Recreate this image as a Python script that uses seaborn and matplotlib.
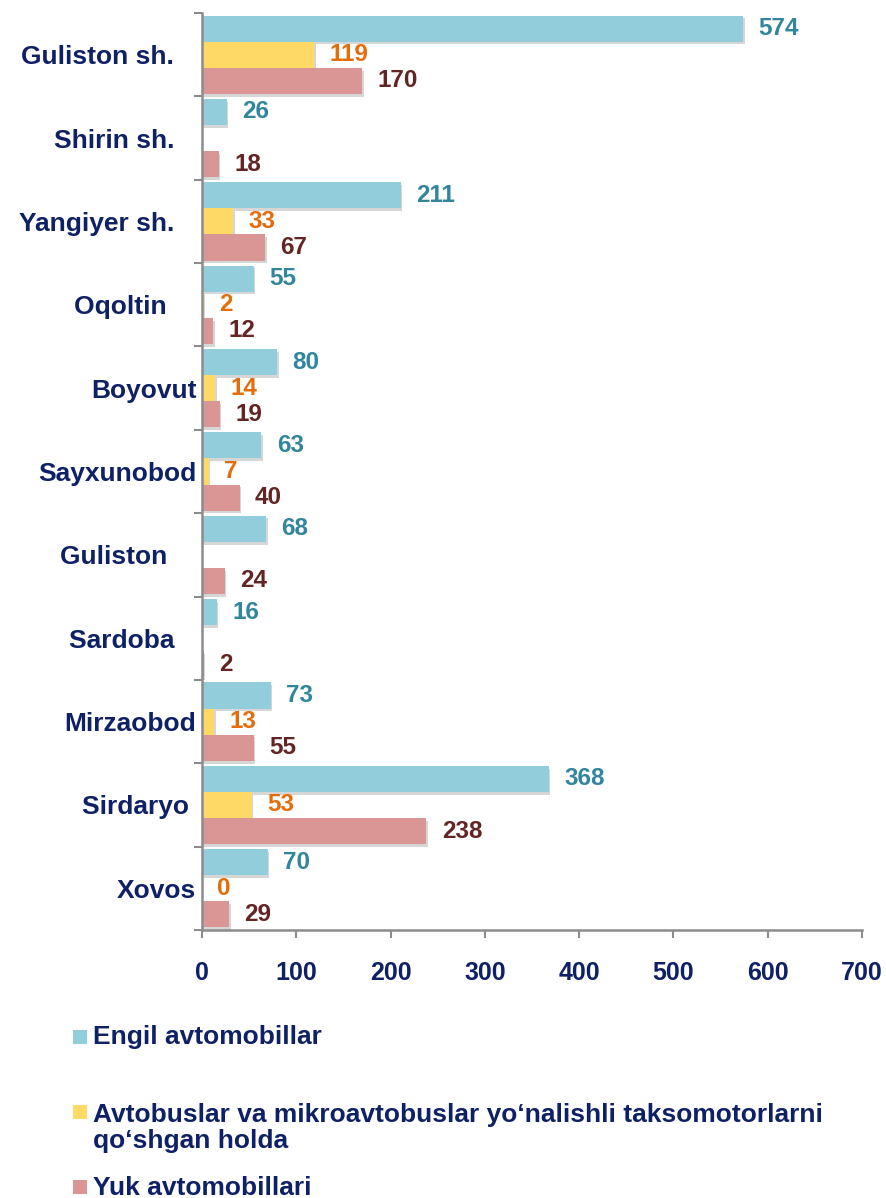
import numpy as np
import pandas as pd
import matplotlib
matplotlib.use("Agg")
import matplotlib.pyplot as plt
import matplotlib.patheffects as pe
from matplotlib.patches import Rectangle
import seaborn as sns

# ---- data ----
regions = ["Guliston sh.", "Shirin sh.", "Yangiyer sh.", "Oqoltin", "Boyovut",
           "Sayxunobod", "Guliston", "Sardoba", "Mirzaobod", "Sirdaryo", "Xovos"]
# tick labels as typed in the source table (some carry trailing spaces)
region_labels = ["Guliston sh.   ", "Shirin sh.   ", "Yangiyer sh.   ", "Oqoltin    ",
                 "Boyovut", "Sayxunobod", "Guliston    ", "Sardoba   ",
                 "Mirzaobod", "Sirdaryo ", "Xovos"]
engil = [574, 26, 211, 55, 80, 63, 68, 16, 73, 368, 70]
avtobus = [119, np.nan, 33, 2, 14, 7, np.nan, np.nan, 13, 53, 0]
yuk = [170, 18, 67, 12, 19, 40, 24, 2, 55, 238, 29]
series_names = ["Engil avtomobillar",
                "Avtobuslar va mikroavtobuslar yo\u2018nalishli taksomotorlarni\nqo\u2018shgan holda",
                "Yuk avtomobillari"]
x_ticks = [0, 100, 200, 300, 400, 500, 600, 700]

bar_colors = ["#92CDDC", "#FFD966", "#D99694"]
label_colors = ["#31859C", "#E46C0A", "#632523"]
navy = "#0F2166"
axis_gray = "#8C8C8C"

df = pd.DataFrame({"region": regions, series_names[0]: engil,
                   series_names[1]: avtobus, series_names[2]: yuk})
long_df = df.melt(id_vars="region", var_name="type", value_name="count")

sns.set_style("white")
plt.rcParams["font.family"] = ["Liberation Sans", "DejaVu Sans"]
plt.rcParams["font.weight"] = "bold"

fig = plt.figure(figsize=(8.87, 11.98), dpi=100)
ax = fig.add_axes([202 / 887, 1 - 930 / 1198, 660 / 887, (930 - 13) / 1198])

sns.barplot(data=long_df, y="region", x="count", hue="type",
            order=regions, hue_order=series_names, palette=bar_colors,
            saturation=1, width=0.94, orient="h", legend=False,
            errorbar=None, ax=ax)

shadow = [pe.SimplePatchShadow(offset=(1.0, -2.0), shadow_rgbFace="#6E6E6E", alpha=0.28),
          pe.Normal()]
for cont, col in zip(ax.containers, label_colors):
    for patch in cont:
        patch.set_edgecolor("none")
        patch.set_path_effects(shadow)
    labels = ["" if np.isnan(v) else f"{v:.0f}" for v in cont.datavalues]
    ax.bar_label(cont, labels=labels, padding=11, color=col,
                 fontsize=17.5, fontweight="bold")

ax.set_xlim(0, 700)
ax.set_ylim(len(regions) - 0.5, -0.5)
ax.set_xlabel("")
ax.set_ylabel("")

# x axis
ax.set_xticks(x_ticks)
ax.set_xticklabels([str(t) for t in x_ticks])
ax.tick_params(axis="x", which="major", bottom=True, length=6, width=1.5,
               color=axis_gray, direction="out", pad=16, labelsize=18,
               labelcolor=navy)

# y axis: ticks at category boundaries, labels at centres
ax.set_yticks(np.arange(-0.5, len(regions), 1.0))
ax.set_yticklabels([])
ax.set_yticks(np.arange(len(regions)), minor=True)
ax.set_yticklabels(region_labels, minor=True)
ax.tick_params(axis="y", which="major", left=True, length=6, width=1.5,
               color=axis_gray, direction="out")
ax.tick_params(axis="y", which="minor", left=True, length=0, pad=4,
               labelsize=19, labelcolor=navy)
for t in ax.get_yticklabels(minor=True) + ax.get_xticklabels():
    t.set_fontweight("bold")

for side in ["top", "right"]:
    ax.spines[side].set_visible(False)
for side in ["left", "bottom"]:
    ax.spines[side].set_color(axis_gray)
    ax.spines[side].set_linewidth(1.8)
ax.grid(False)

# legend below the plot
H = 1198.0
W = 887.0
legend_rows = [(1037, 1037), (1112, 1128), (1187, 1188)]
sq = 14
for (sq_y, txt_y), name, col in zip(legend_rows, series_names, bar_colors):
    fig.patches.append(Rectangle((73 / W, 1 - (sq_y + sq / 2) / H), sq / W, sq / H,
                                 transform=fig.transFigure, facecolor=col,
                                 edgecolor="none"))
    fig.text(93 / W, 1 - txt_y / H, name, ha="left", va="center",
             fontsize=19, fontweight="bold", color=navy, linespacing=1.1)

fig.savefig("out.png", dpi=100, facecolor="white")
